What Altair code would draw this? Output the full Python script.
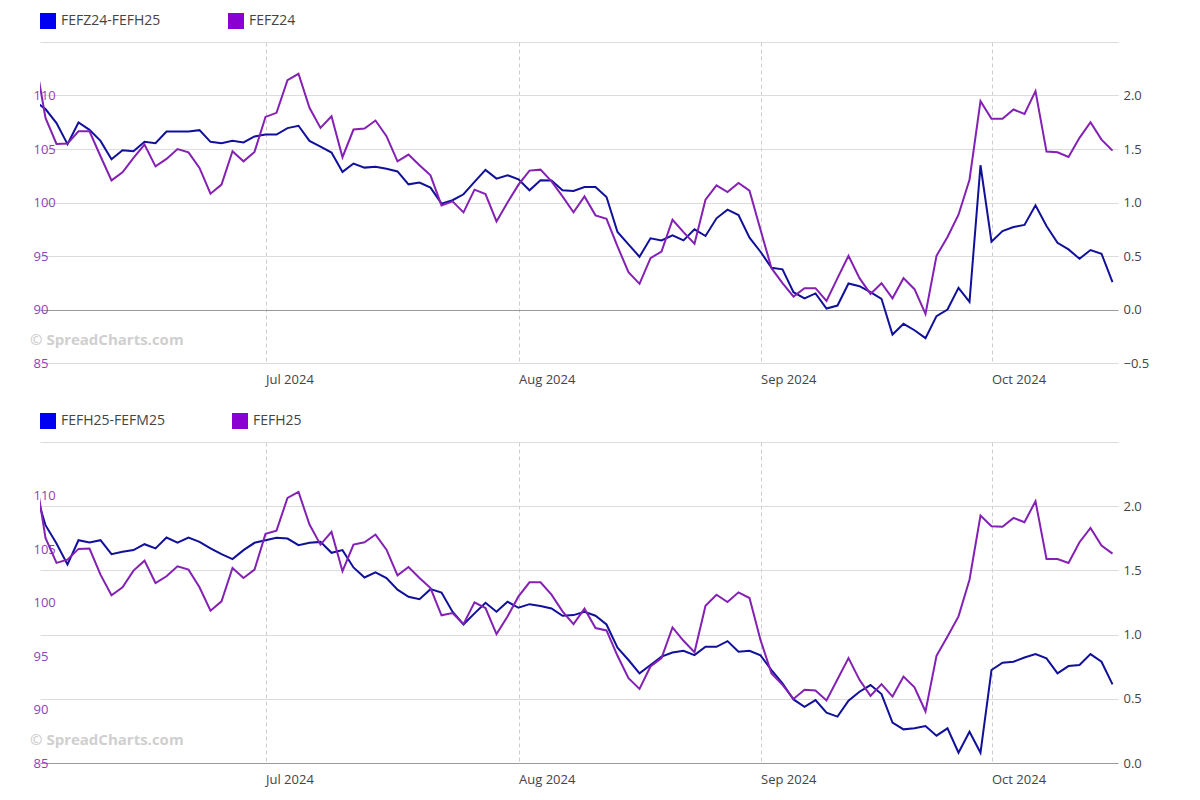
import altair as alt
import pandas as pd

# ---- axis ticks (trading-day index; 0 = 31 May 2024) ----
tick_idx = [21, 44, 66, 87]
tick_labels = ["Jul 2024", "Aug 2024", "Sep 2024", "Oct 2024"]
left_ticks = [85, 90, 95, 100, 105, 110]
right_ticks_top = [-0.5, 0.0, 0.5, 1.0, 1.5, 2.0, 2.5]
right_ticks_bot = [0.0, 0.5, 1.0, 1.5, 2.0, 2.5]

top_spread_name = "FEFZ24-FEFH25"
top_price_name = "FEFZ24"
bot_spread_name = "FEFH25-FEFM25"
bot_price_name = "FEFH25"

top_price = [
    113.8, 107.91, 105.47, 105.51, 106.66, 106.66, 104.32, 102.07, 102.82, 104.16,
    105.41, 103.38, 104.07, 105.0, 104.69, 103.23, 100.82, 101.67, 104.79, 103.85,
    104.73, 108.0, 108.38, 111.44, 112.03, 108.85, 106.97, 108.06, 104.23, 106.82,
    106.91, 107.66, 106.2, 103.85, 104.48, 103.48, 102.54, 99.73, 100.11, 99.08,
    101.2, 100.79, 98.23, 100.01, 101.67, 102.98, 103.07, 101.98, 100.57, 99.08,
    100.57, 98.8, 98.48, 95.89, 93.49, 92.4, 94.8, 95.42, 98.39, 97.23,
    96.14, 100.26, 101.6, 100.98, 101.82, 101.1, 97.45, 93.86, 92.46, 91.21,
    91.99, 91.99, 90.81, 92.93, 95.02, 92.93, 91.46, 92.46, 91.05, 92.93,
    91.9, 89.59, 95.02, 96.77, 98.86, 102.13, 109.47, 107.82, 107.82, 108.69,
    108.28, 110.41, 104.76, 104.69, 104.26, 106.04, 107.5, 105.88, 104.85,
]
top_spread = [
    1.95, 1.873, 1.742, 1.545, 1.748, 1.679, 1.576, 1.404, 1.489, 1.479,
    1.567, 1.554, 1.664, 1.664, 1.664, 1.676, 1.567, 1.554, 1.576, 1.561,
    1.617, 1.635, 1.635, 1.695, 1.717, 1.576, 1.523, 1.467, 1.286, 1.364,
    1.326, 1.333, 1.315, 1.29, 1.17, 1.186, 1.139, 0.989, 1.021, 1.077,
    1.192, 1.305, 1.223, 1.255, 1.217, 1.114, 1.208, 1.205, 1.114, 1.108,
    1.145, 1.145, 1.052, 0.724, 0.609, 0.493, 0.665, 0.646, 0.693, 0.646,
    0.749, 0.687, 0.852, 0.933, 0.883, 0.671, 0.54, 0.39, 0.375, 0.162,
    0.103, 0.15, 0.009, 0.037, 0.243, 0.218, 0.162, 0.1, -0.234, -0.134,
    -0.194, -0.268, -0.062, 0.0, 0.203, 0.072, 1.348, 0.634, 0.733, 0.771,
    0.79, 0.974, 0.78, 0.624, 0.562, 0.474, 0.556, 0.521, 0.256,
]
bot_price = [
    112.5, 106.04, 103.7, 104.01, 105.01, 105.04, 102.6, 100.67, 101.42, 102.98,
    103.91, 101.82, 102.45, 103.38, 103.07, 101.42, 99.23, 100.11, 103.23, 102.29,
    103.07, 106.41, 106.72, 109.78, 110.34, 107.28, 105.41, 106.6, 102.92, 105.41,
    105.63, 106.35, 104.94, 102.54, 103.32, 102.29, 101.35, 98.8, 99.01, 97.98,
    100.01, 99.48, 97.05, 98.7, 100.57, 101.89, 101.89, 100.73, 99.17, 97.98,
    99.42, 97.61, 97.39, 95.02, 92.93, 91.93, 94.02, 94.8, 97.67, 96.42,
    95.36, 99.7, 100.73, 100.04, 100.95, 100.42, 96.5, 93.36, 92.3, 90.99,
    91.84, 91.77, 90.84, 92.83, 94.8, 92.77, 91.27, 92.37, 91.21, 93.08,
    92.08, 89.81, 95.02, 96.83, 98.7, 102.13, 108.13, 107.13, 107.07, 107.91,
    107.5, 109.47, 104.07, 104.07, 103.7, 105.63, 106.97, 105.32, 104.57,
]
bot_spread = [
    2.14, 1.852, 1.709, 1.546, 1.735, 1.717, 1.735, 1.626, 1.645, 1.658,
    1.704, 1.671, 1.756, 1.717, 1.756, 1.722, 1.671, 1.626, 1.588, 1.658,
    1.715, 1.735, 1.754, 1.748, 1.697, 1.715, 1.722, 1.637, 1.658, 1.523,
    1.445, 1.484, 1.44, 1.35, 1.294, 1.276, 1.354, 1.328, 1.178, 1.079,
    1.165, 1.248, 1.178, 1.256, 1.209, 1.237, 1.222, 1.204, 1.147, 1.152,
    1.178, 1.147, 1.079, 0.898, 0.802, 0.698, 0.763, 0.828, 0.861, 0.874,
    0.84, 0.905, 0.905, 0.949, 0.866, 0.874, 0.838, 0.724, 0.62, 0.495,
    0.438, 0.49, 0.392, 0.361, 0.485, 0.555, 0.607, 0.537, 0.314, 0.262,
    0.27, 0.288, 0.213, 0.27, 0.08, 0.244, 0.08, 0.724, 0.781, 0.789,
    0.822, 0.848, 0.815, 0.698, 0.755, 0.763, 0.848, 0.789, 0.612,
]

BLUE_LINE = "#10109a"
PURPLE_LINE = "#8420b4"
LEG_BLUE = "#0000f0"
LEG_PURPLE = "#8a00d2"
PURPLE_LABEL = "#8f3fba"
TEXT = "#444444"
FONT = "Open Sans"

label_expr = " : ".join(
    f"datum.value == {v} ? '{t}'" for v, t in zip(tick_idx, tick_labels)
) + " : ''"


def panel(spread, price, spread_name, price_name, right_ticks):
    n = len(spread)
    df = pd.DataFrame({"idx": list(range(n)), "spread": spread, "price": price})
    x = alt.X(
        "idx:Q",
        scale=alt.Scale(domain=[0.5, n - 0.5], nice=False, zero=False),
        axis=alt.Axis(
            values=tick_idx, labelExpr=label_expr, title=None, grid=True,
            gridDash=[4, 3], gridColor="#cccccc", ticks=False, tickSize=0,
            domain=False, labelAlign="left", labelPadding=10, labelFontSize=13,
            labelColor=TEXT, labelOverlap=False, labelFlush=False, labelFont=FONT,
        ),
    )
    base = alt.Chart(df)
    spread_line = base.mark_line(color=BLUE_LINE, strokeWidth=2, clip=True).encode(
        x=x,
        y=alt.Y(
            "spread:Q",
            scale=alt.Scale(domain=[right_ticks[0], 2.5], nice=False, zero=False),
            axis=alt.Axis(
                orient="right", values=right_ticks, format=".1f",
                labelExpr="datum.value > 2.25 ? '' : datum.label",
                title=None, grid=True,
                gridColor={"condition": {"test": "datum.value === 0", "value": "#9a9a9a"},
                           "value": "#dcdcdc"},
                ticks=False, tickSize=0, domain=False, labelAlign="left",
                labelPadding=5, labelFontSize=13, labelColor=TEXT,
                labelFlush=False, labelBaseline="middle", labelFont=FONT,
            ),
        ),
    )
    price_line = base.mark_line(color=PURPLE_LINE, strokeWidth=2, clip=True).encode(
        x=x,
        y=alt.Y(
            "price:Q",
            scale=alt.Scale(domain=[85, 115], nice=False, zero=False),
            axis=alt.Axis(
                orient="left", values=left_ticks, title=None, grid=False,
                ticks=False, tickSize=0, domain=False, labelAlign="left",
                labelPadding=7, labelFontSize=13, labelColor=PURPLE_LABEL,
                labelFlush=False, labelBaseline="middle", labelFont=FONT,
            ),
        ),
    )
    leg_df = pd.DataFrame({"name": [spread_name, price_name]})
    legend_layer = alt.Chart(leg_df).mark_square(size=0, opacity=0).encode(
        color=alt.Color(
            "name:N",
            scale=alt.Scale(domain=[spread_name, price_name], range=[LEG_BLUE, LEG_PURPLE]),
            legend=alt.Legend(
                title=None, orient="none", legendX=0, legendY=-29,
                direction="horizontal", symbolType="square", symbolSize=256,
                symbolOpacity=1, symbolStrokeWidth=0, labelFontSize=14,
                labelColor=TEXT, labelOffset=5, columnPadding=67, padding=0,
                labelFont=FONT,
            ),
        )
    )
    wm = alt.Chart(pd.DataFrame({"t": ["© SpreadCharts.com"]})).mark_text(
        align="left", baseline="middle", font=FONT, fontSize=15,
        fontWeight="bold", color="#cfcfcf",
    ).encode(text="t:N", x=alt.value(-10), y=alt.value(298))
    return alt.layer(wm, spread_line, price_line, legend_layer).resolve_scale(
        y="independent"
    ).properties(width=1078, height=321)


top = panel(top_spread, top_price, top_spread_name, top_price_name, right_ticks_top)
bottom = panel(bot_spread, bot_price, bot_spread_name, bot_price_name, right_ticks_bot)

chart = (
    alt.vconcat(top, bottom, spacing=27)
    .resolve_scale(color="independent")
    .resolve_legend(color="independent")
    .properties(padding={"left": 22, "top": 5, "right": 5, "bottom": 5}, background="white")
    .configure(font=FONT)
    .configure_view(stroke=None)
)

chart.save("out.html", embed_options={"renderer": "svg", "actions": False})
